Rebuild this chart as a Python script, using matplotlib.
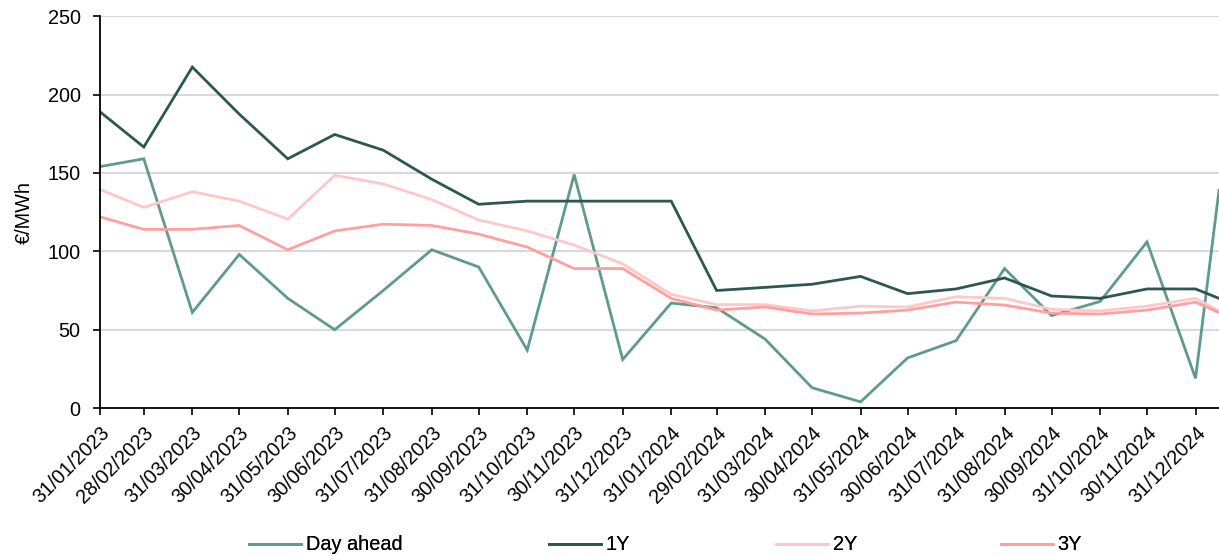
import matplotlib
matplotlib.use("Agg")
import matplotlib.pyplot as plt
import matplotlib.dates as mdates
import pandas as pd

plt.rcParams['font.family'] = ['Liberation Sans', 'DejaVu Sans']

dates = ["2023-01-31", "2023-02-28", "2023-03-31", "2023-04-30", "2023-05-31", "2023-06-30",
         "2023-07-31", "2023-08-31", "2023-09-30", "2023-10-31", "2023-11-30", "2023-12-31",
         "2024-01-31", "2024-02-29", "2024-03-31", "2024-04-30", "2024-05-31", "2024-06-30",
         "2024-07-31", "2024-08-31", "2024-09-30", "2024-10-31", "2024-11-30", "2024-12-31",
         "2025-01-15"]

day_ahead = [154, 159, 61, 98, 70, 50, 75, 101, 90, 37, 149, 31,
             67, 64, 44, 13, 4, 32, 43, 89, 59, 68, 106, 19, 139]
y1 = [189, 166.5, 217.5, 187.5, 159, 174.5, 164.5, 146, 130, 132, 132, 132,
      132, 75, 77, 79, 84, 73, 76, 83, 71.5, 70, 76, 76, 70]
y2 = [139.5, 128, 138, 132, 120.5, 148.5, 143, 133, 120, 113, 104, 92,
      72.5, 66, 66, 62, 65, 64.5, 71, 70, 63, 62, 65, 70, 62]
y3 = [122, 114, 114, 116.5, 101, 113, 117.3, 116.5, 111, 102.7, 89, 89,
      70, 62.5, 64.5, 60, 60.6, 62.5, 67.6, 65.7, 60.6, 60, 62.5, 67.6, 61]

series_names = ["Day ahead", "1Y", "2Y", "3Y"]
colors = ["#5f9a8e", "#2e5652", "#ffc8c8", "#ff9f9f"]

x = pd.to_datetime(dates)
tick_dates = x[:-1]

FS = 14.3

fig = plt.figure(figsize=(12.19, 5.56), dpi=100)
ax = fig.add_axes([0.082, 0.266, 0.918, 0.705])

ax.set_axisbelow(True)
ax.yaxis.grid(True, color="#d9d9d9", linewidth=1.5)

lines = []
for vals, c, name in zip([day_ahead, y1, y2, y3], colors, series_names):
    ln, = ax.plot(x, vals, color=c, linewidth=2.0, label=name, solid_joinstyle='miter')
    lines.append(ln)

ax.set_ylim(0, 250)
ax.set_yticks([0, 50, 100, 150, 200, 250])
ax.set_xlim(x[0], x[-1])
ax.set_xticks(tick_dates)
ax.xaxis.set_major_formatter(mdates.DateFormatter("%d/%m/%Y"))

for s in ["top", "right"]:
    ax.spines[s].set_visible(False)
for s in ["left", "bottom"]:
    ax.spines[s].set_color("black")
    ax.spines[s].set_linewidth(1.3)

ax.tick_params(axis="both", direction="out", length=5, width=1.2, colors="black", labelsize=FS)
ax.tick_params(axis="y", pad=9)
ax.tick_params(axis="x", pad=6)
plt.setp(ax.get_xticklabels(), rotation=45, ha="right", rotation_mode="anchor")

ax.set_ylabel("€/MWh", fontsize=FS, labelpad=10)

legend_x = [249, 549, 776, 1001]
for ln, lx in zip(lines, legend_x):
    lg = fig.legend(handles=[ln], loc="center left", bbox_to_anchor=(lx / 1219, 1 - 545 / 556),
                    frameon=False, fontsize=FS, handlelength=2.6, handletextpad=0.25,
                    borderpad=0, borderaxespad=0)
    fig.add_artist(lg)

fig.savefig("out.png", dpi=100)
